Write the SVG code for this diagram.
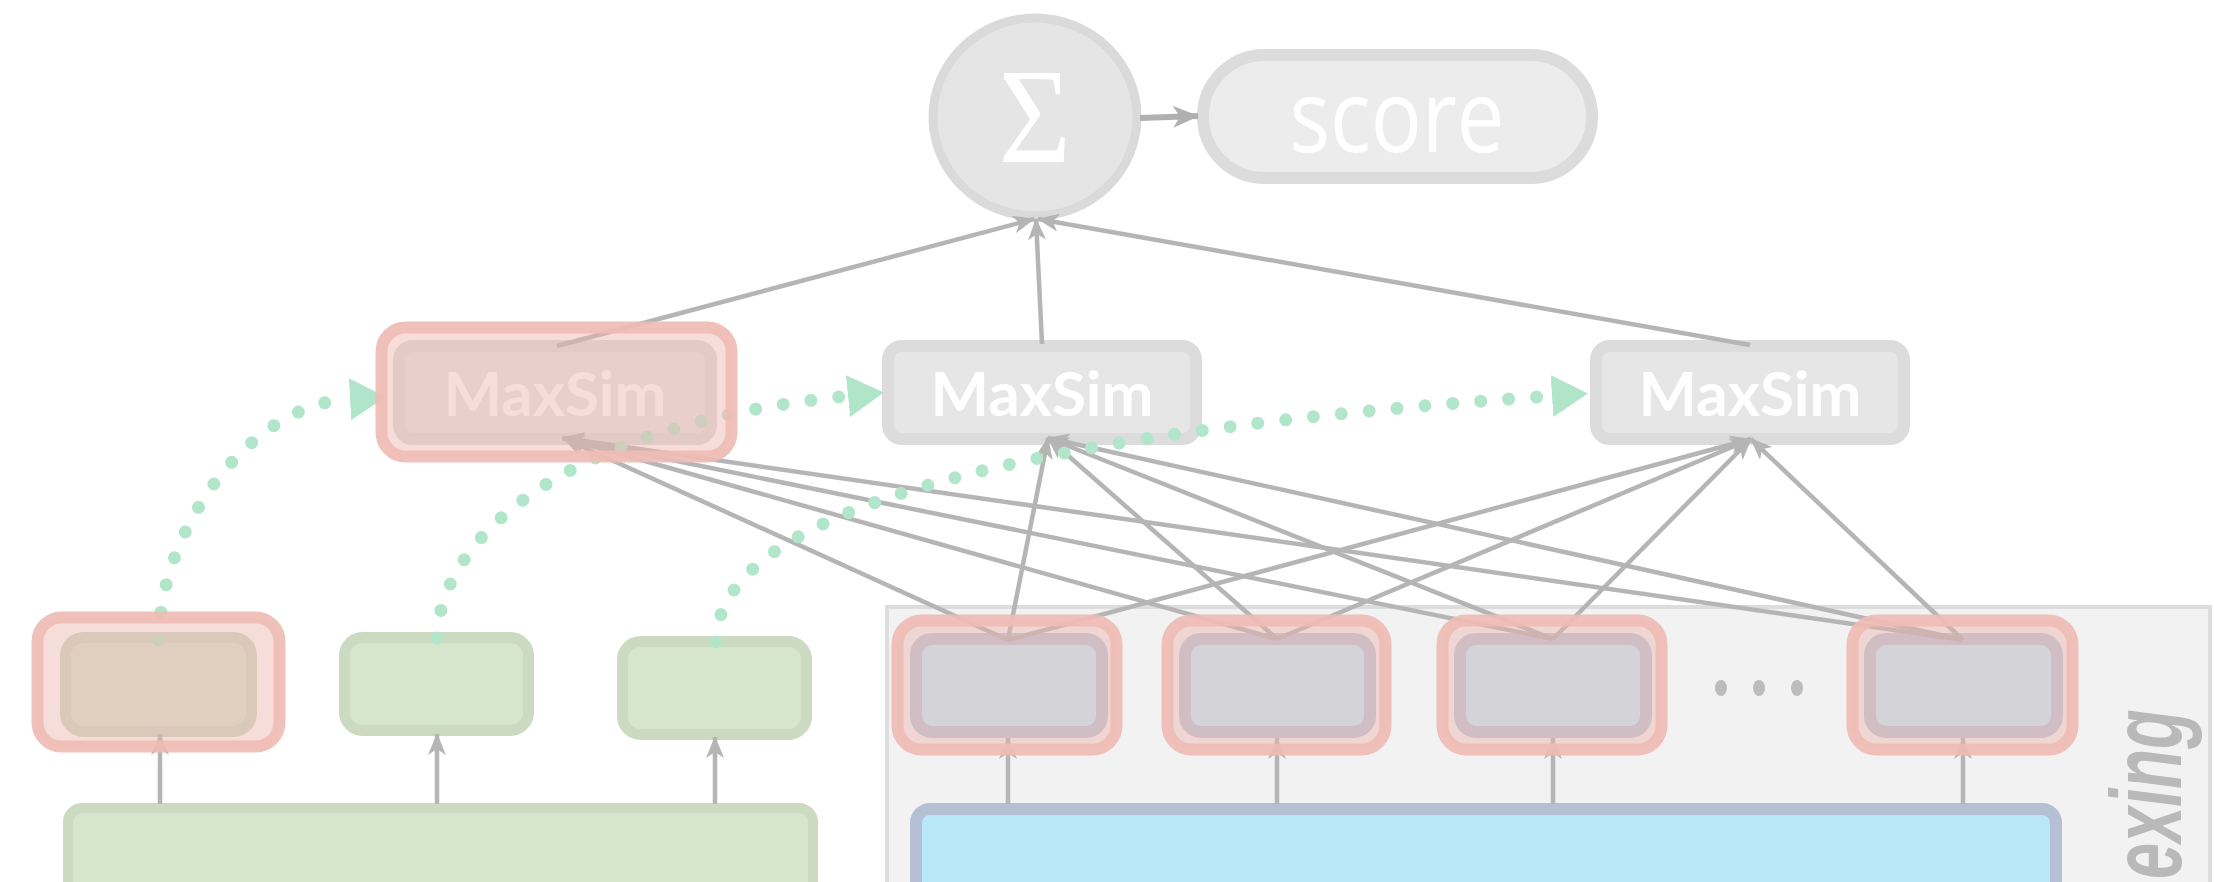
<svg xmlns="http://www.w3.org/2000/svg" width="2214" height="882" viewBox="0 0 2214 882">
  <defs>
    <style>
      .edge { fill: none; stroke: #b5b5b5; stroke-width: 4.5; marker-end: url(#ah); }
      .flow { fill: none; stroke: #b2e6cb; stroke-width: 13; stroke-linecap: round; stroke-dasharray: 0 28; marker-end: url(#tri); }
      .maxsim { fill: #e6e6e6; stroke: #dcdcdc; stroke-width: 12; }
      .mtext { font-family: Lato, "Open Sans", sans-serif; font-weight: bold; font-size: 62px; fill: #ffffff; text-anchor: middle; }
      .qtok { fill: #d6e6cc; stroke: #cbdac1; stroke-width: 11; }
      .dtok { fill: #bfeefc; stroke: #bbc6d8; stroke-width: 12; }
      .hl { fill: #eeb4ac; fill-opacity: 0.45; stroke: #efbcb4; stroke-opacity: 0.92; stroke-width: 12; }
    </style>
    <marker id="ah" viewBox="0 0 22 18" refX="21" refY="9" markerWidth="22" markerHeight="18" markerUnits="userSpaceOnUse" orient="auto">
      <path d="M0,0 L22,9 L0,18 L6,9 Z" fill="#b5b5b5"/>
    </marker>
    <marker id="ah2" viewBox="0 0 26 22" refX="25" refY="11" markerWidth="26" markerHeight="22" markerUnits="userSpaceOnUse" orient="auto">
      <path d="M0,0 L26,11 L0,22 L7,11 Z" fill="#b0b0b0"/>
    </marker>
    <marker id="tri" viewBox="0 0 36 42" refX="0" refY="21" markerWidth="36" markerHeight="42" markerUnits="userSpaceOnUse" orient="auto">
      <path d="M0,0 L36,21 L0,42 Z" fill="#b0e5c9"/>
    </marker>
  </defs>

  <rect width="2214" height="882" fill="#ffffff"/>

  <!-- document side: indexing panel -->
  <g id="doc-panel">
    <rect x="887" y="607" width="1323" height="300" fill="#f2f2f2" stroke="#dddddd" stroke-width="4"/>
    <text transform="translate(2181,879) rotate(-90) scale(0.65,1)" font-family="'Liberation Sans', Arial, sans-serif" font-weight="bold" font-style="italic" font-size="100" fill="#b9b9b9">exing</text>
  </g>

  <!-- encoders -->
  <g id="query-encoder">
    <rect x="68" y="808" width="745" height="120" rx="14" fill="#d5e6cb" stroke="#cbdac1" stroke-width="10"/>
  </g>
  <g id="doc-encoder">
    <rect x="916" y="809" width="1140" height="120" rx="14" fill="#b8e7f9" stroke="#b6c0d5" stroke-width="12"/>
  </g>

  <!-- query token embeddings -->
  <g id="q-tok-1"><rect class="qtok" x="65.5" y="637.5" width="186" height="94" rx="18"/></g>
  <g id="q-tok-2"><rect class="qtok" x="344.5" y="637.5" width="184" height="93" rx="18"/></g>
  <g id="q-tok-3"><rect class="qtok" x="622.5" y="641.5" width="184" height="93" rx="18"/></g>

  <!-- document token embeddings -->
  <g id="d-tok-1"><rect class="dtok" x="916" y="639" width="186" height="93" rx="16"/></g>
  <g id="d-tok-2"><rect class="dtok" x="1185" y="639" width="185" height="93" rx="16"/></g>
  <g id="d-tok-3"><rect class="dtok" x="1460" y="639" width="186" height="93" rx="16"/></g>
  <g id="d-tok-4"><rect class="dtok" x="1870" y="639" width="187" height="93" rx="16"/></g>
  <g id="d-ellipsis" fill="#bcbcbc">
    <ellipse cx="1721" cy="688" rx="6" ry="8"/>
    <ellipse cx="1759" cy="688" rx="6" ry="8"/>
    <ellipse cx="1797" cy="688" rx="6" ry="8"/>
  </g>

  <!-- MaxSim operators -->
  <g id="maxsim-1">
    <rect class="maxsim" x="399" y="346" width="312" height="93" rx="14"/>
    <text class="mtext" x="555" y="416">MaxSim</text>
  </g>
  <g id="maxsim-2">
    <rect class="maxsim" x="888" y="346" width="308" height="93" rx="14"/>
    <text class="mtext" x="1042" y="416">MaxSim</text>
  </g>
  <g id="maxsim-3">
    <rect class="maxsim" x="1596" y="346" width="308" height="93" rx="14"/>
    <text class="mtext" x="1750" y="416">MaxSim</text>
  </g>

  <!-- sum and score -->
  <g id="sum">
    <ellipse cx="1035" cy="117" rx="102" ry="99" fill="#e5e5e5" stroke="#dadada" stroke-width="9"/>
    <text transform="translate(1035,162) scale(0.92,1)" font-family="'Liberation Serif', 'Times New Roman', serif" font-size="135" fill="#ffffff" text-anchor="middle">Σ</text>
  </g>
  <g id="score">
    <rect x="1203" y="55" width="389" height="123" rx="61.5" fill="#ececec" stroke="#dcdcdc" stroke-width="12"/>
    <text transform="translate(1397,152) scale(0.85,1)" font-family="'Open Sans', Lato, sans-serif" font-size="100" fill="#ffffff" text-anchor="middle">score</text>
  </g>

  <!-- connectors -->
  <g id="connectors">
    <!-- encoder outputs -->
    <line class="edge" x1="160" y1="804" x2="160" y2="734"/>
    <line class="edge" x1="437" y1="804" x2="437" y2="734"/>
    <line class="edge" x1="715" y1="804" x2="715" y2="737"/>
    <line class="edge" x1="1008" y1="804" x2="1008" y2="738"/>
    <line class="edge" x1="1277" y1="804" x2="1277" y2="738"/>
    <line class="edge" x1="1553" y1="804" x2="1553" y2="738"/>
    <line class="edge" x1="1963" y1="804" x2="1963" y2="738"/>

    <!-- document tokens to MaxSim -->
    <line class="edge" x1="1008" y1="640" x2="563" y2="438"/>
    <line class="edge" x1="1277" y1="639" x2="563" y2="438"/>
    <line class="edge" x1="1553" y1="639" x2="563" y2="438"/>
    <line class="edge" x1="1963" y1="640" x2="563" y2="438"/>
    <line class="edge" x1="1008" y1="640" x2="1048" y2="438"/>
    <line class="edge" x1="1277" y1="639" x2="1048" y2="438"/>
    <line class="edge" x1="1553" y1="639" x2="1048" y2="438"/>
    <line class="edge" x1="1963" y1="640" x2="1048" y2="438"/>
    <line class="edge" x1="1008" y1="640" x2="1751" y2="439"/>
    <line class="edge" x1="1277" y1="639" x2="1751" y2="439"/>
    <line class="edge" x1="1553" y1="639" x2="1751" y2="439"/>
    <line class="edge" x1="1963" y1="640" x2="1751" y2="439"/>

    <!-- MaxSim to sum -->
    <line class="edge" x1="557" y1="346" x2="1034" y2="219"/>
    <line class="edge" x1="1042" y1="344" x2="1036" y2="219"/>
    <line class="edge" x1="1750" y1="345" x2="1038" y2="219"/>

    <!-- sum to score -->
    <line x1="1140" y1="118" x2="1198" y2="116" fill="none" stroke="#b0b0b0" stroke-width="6" marker-end="url(#ah2)"/>

    <!-- query token to MaxSim flows -->
    <path class="flow" d="M159,640 C159,535 245,405 350,399"/>
    <path class="flow" d="M437,638 C440,540 560,425 848,396"/>
    <path class="flow" d="M716,642 C717,540 900,440 1552,396"/>
  </g>

  <!-- highlighted query token, MaxSim and matched document tokens -->
  <g id="highlights">
    <rect class="hl" x="37.5" y="617.5" width="242" height="129" rx="24"/>
    <rect class="hl" x="381.5" y="327.5" width="350" height="129" rx="24"/>
    <rect class="hl" x="897.5" y="620.5" width="219" height="129" rx="24"/>
    <rect class="hl" x="1167.5" y="620.5" width="218" height="129" rx="24"/>
    <rect class="hl" x="1442.5" y="620.5" width="219" height="129" rx="24"/>
    <rect class="hl" x="1852.5" y="620.5" width="220" height="129" rx="24"/>
  </g>
</svg>
